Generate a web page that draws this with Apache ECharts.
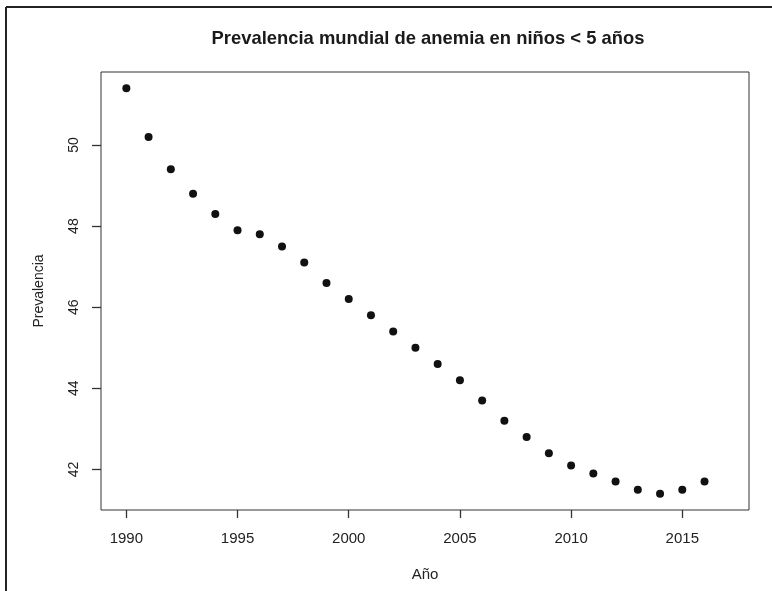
<!DOCTYPE html>
<html>
<head>
<meta charset="utf-8">
<script src="https://cdn.jsdelivr.net/npm/echarts@6/dist/echarts.min.js"></script>
<style>
html,body{margin:0;padding:0;background:#fff;}
#c{width:772px;height:591px;}
</style>
</head>
<body>
<div id="c"></div>
<script>
const years = [1990,1991,1992,1993,1994,1995,1996,1997,1998,1999,2000,2001,2002,2003,2004,2005,2006,2007,2008,2009,2010,2011,2012,2013,2014,2015,2016];
const prevalence = [51.4,50.2,49.4,48.8,48.3,47.9,47.8,47.5,47.1,46.6,46.2,45.8,45.4,45.0,44.6,44.2,43.7,43.2,42.8,42.4,42.1,41.9,41.7,41.5,41.4,41.5,41.7];
const xTicks = [1990,1995,2000,2005,2010,2015];
const yTicks = [42,44,46,48,50];
const title = 'Prevalencia mundial de anemia en niños < 5 años';

const chart = echarts.init(document.getElementById('c'), null, {renderer:'canvas'});
const font = 'Liberation Sans, Arial, sans-serif';
chart.setOption({
  backgroundColor:'#fff',
  animation:false,
  title:{
    text:title, left:423, top:25, textAlign:'center',
    textStyle:{fontFamily:font, fontSize:18.4, fontWeight:'bold', color:'#1a1a1a'}
  },
  grid:{left:101, top:72, right:23, bottom:81, show:true, borderColor:'#333', borderWidth:1, backgroundColor:'transparent'},
  xAxis:{
    type:'value', min:1988.86, max:2018,
    name:'Año', nameLocation:'middle', nameGap:57,
    nameTextStyle:{fontFamily:font, fontSize:15, color:'#222'},
    axisLine:{show:false},
    axisTick:{show:true, length:8, customValues:xTicks, lineStyle:{color:'#333', width:1.3}},
    axisLabel:{customValues:xTicks, margin:21, fontFamily:font, fontSize:15, color:'#222', formatter:v=>String(v)},
    splitLine:{show:false}
  },
  yAxis:{
    type:'value', min:41.0, max:51.8,
    name:'Prevalencia', nameLocation:'middle', nameGap:55, nameRotate:90,
    nameTextStyle:{fontFamily:font, fontSize:14, color:'#222'},
    axisLine:{show:false},
    axisTick:{show:true, length:9, customValues:yTicks, lineStyle:{color:'#333', width:1.3}},
    axisLabel:{customValues:yTicks, rotate:90, margin:20, fontFamily:font, fontSize:14, color:'#222', formatter:v=>String(v)},
    splitLine:{show:false}
  },
  graphic:[
    {type:'line', shape:{x1:6, y1:7, x2:772, y2:7}, style:{stroke:'#222', lineWidth:2}},
    {type:'line', shape:{x1:6, y1:7, x2:6, y2:591}, style:{stroke:'#222', lineWidth:2}}
  ],
  series:[{
    type:'scatter',
    data: years.map((y,i)=>[y, prevalence[i]]),
    symbol:'circle', symbolSize:8,
    itemStyle:{color:'#111', opacity:1}
  }]
});
</script>
</body>
</html>
